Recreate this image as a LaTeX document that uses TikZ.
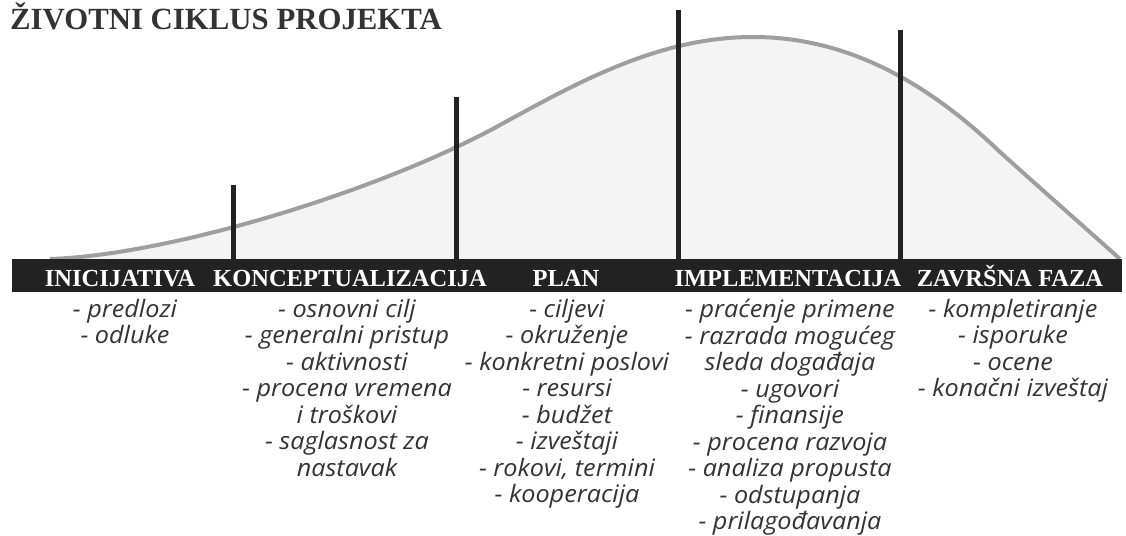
\documentclass[tikz,border=0pt]{standalone}
\usepackage{fontspec}
\setmainfont{Liberation Serif}
\newfontfamily\phasefont{Liberation Serif}
\newfontfamily\listfont[FakeStretch=1.05]{Open Sans}
\definecolor{bardark}{HTML}{222222}
\definecolor{curvegray}{HTML}{9E9E9E}
\definecolor{curvefill}{HTML}{F4F4F4}
\definecolor{inkgray}{HTML}{333333}

\begin{document}
\begin{tikzpicture}[x=1pt, y=-1pt,
  phase node/.style={anchor=base, text=white, inner sep=0pt, font=\phasefont\bfseries\fontsize{24.5}{24.5}\selectfont},
  list node/.style={anchor=north, align=center, inner sep=0pt, text=inkgray, font=\listfont\itshape\fontsize{24}{26.5}\selectfont},
  marker/.style={line width=5pt, draw=bardark}]

\useasboundingbox (0,0) rectangle (1126,535);

\draw[curvegray, line width=4pt, fill=curvefill] (50,259) .. controls (170,255) and (380,191) .. (500,125)
  .. controls (580,81) and (660,37) .. (753,37)
  .. controls (850,37) and (930,85) .. (1000,152)
  .. controls (1050,197) and (1090,232) .. (1120,259);

\node[fill=bardark, inner sep=0pt, minimum width=1110pt, minimum height=33pt, anchor=north west] (bar) at (12,259) {};

\coordinate (t1) at (233,185);
\coordinate (t2) at (456,97);
\coordinate (t3) at (678,10);
\coordinate (t4) at (900,30);

\draw[marker] (t1) -- (t1 |- bar.north);
\draw[marker] (t2) -- (t2 |- bar.north);
\draw[marker] (t3) -- (t3 |- bar.north);
\draw[marker] (t4) -- (t4 |- bar.north);

\node[anchor=base west, inner sep=0pt, text=inkgray, font=\bfseries\fontsize{30.8}{30.8}\selectfont] (title) at (10,30) {ŽIVOTNI CIKLUS PROJEKTA};

\node[phase node] (p1) at (120,286) {INICIJATIVA};
\node[phase node] (p2) at (350,286) {KONCEPTUALIZACIJA};
\node[phase node] (p3) at (566,286) {PLAN};
\node[phase node] (p4) at (788,286) {IMPLEMENTACIJA};
\node[phase node] (p5) at (1010,286) {ZAVRŠNA FAZA};

\node[list node] (l1) at (125,299) {- predlozi\\- odluke};
\node[list node] (l2) at (347,299) {- osnovni cilj\\- generalni pristup\\- aktivnosti\\- procena vremena\\i troškovi\\- saglasnost za\\nastavak};
\node[list node] (l3) at (567,299) {- ciljevi\\- okruženje\\- konkretni poslovi\\- resursi\\- budžet\\- izveštaji\\- rokovi, termini\\- kooperacija};
\node[list node] (l4) at (790,299) {- praćenje primene\\- razrada mogućeg\\sleda događaja\\- ugovori\\- finansije\\- procena razvoja\\- analiza propusta\\- odstupanja\\- prilagođavanja};
\node[list node] (l5) at (1013,299) {- kompletiranje\\- isporuke\\- ocene\\- konačni izveštaj};

\end{tikzpicture}
\end{document}
